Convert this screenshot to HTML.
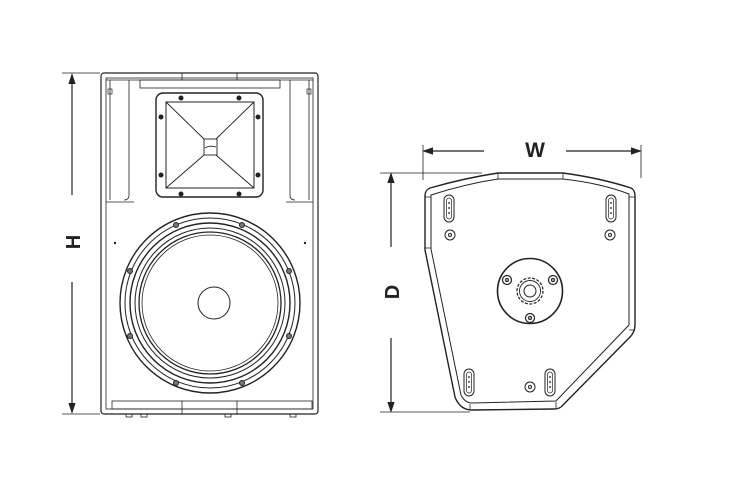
<!DOCTYPE html>
<html><head><meta charset="utf-8"><style>
html,body{margin:0;padding:0;background:#fff;}
svg{display:block;}
text{font-family:"Liberation Sans",sans-serif;font-weight:bold;fill:#222;}
</style></head><body>
<svg width="752" height="500" viewBox="0 0 752 500" xmlns="http://www.w3.org/2000/svg">
<g fill="none" stroke="#222" stroke-width="1.2">
<line x1="62" y1="73" x2="100" y2="73" stroke-width="0.8"/>
<line x1="62" y1="414" x2="100" y2="414" stroke-width="0.8"/>
<line x1="72" y1="75" x2="72" y2="195"/>
<line x1="72" y1="282" x2="72" y2="412"/>
<path d="M69,84 L72,75 L75,84" fill="#222"/>
<path d="M69,403 L72,412 L75,403" fill="#222"/>

<rect x="101" y="73" width="217" height="341" rx="3"/>
<rect x="106" y="78" width="207" height="331" stroke-width="0.8"/>
<line x1="106" y1="80" x2="313" y2="80" stroke-width="0.8"/>
<rect x="140" y="80" width="140" height="8" stroke-width="0.8"/>
<line x1="182" y1="73" x2="182" y2="80" stroke-width="0.8"/>
<line x1="237" y1="73" x2="237" y2="80" stroke-width="0.8"/>
<path d="M110,80 L110,200" stroke-width="0.8"/>
<path d="M129,80 L129,195 Q129,200 124,200" stroke-width="0.8"/>
<path d="M309,80 L309,200" stroke-width="0.8"/>
<path d="M290,80 L290,195 Q290,200 295,200" stroke-width="0.8"/>
<line x1="106" y1="202" x2="134" y2="202" stroke-width="0.8"/>
<line x1="286" y1="202" x2="313" y2="202" stroke-width="0.8"/>
<rect x="108" y="89" width="4" height="5" stroke-width="0.7"/>
<rect x="307" y="89" width="4" height="5" stroke-width="0.7"/>
<rect x="156" y="93" width="107" height="104" rx="7" stroke-width="1.4"/>
<rect x="166" y="102" width="88" height="86" stroke-width="1"/>
<path d="M166,102 L204,139 M254,102 L216,139 M166,188 L204,155 M254,188 L216,155" stroke-width="0.9"/>
<rect x="204" y="139" width="13" height="16" stroke-width="0.9"/>
<path d="M205,148 Q210,145 216,147" stroke-width="0.8"/>
<g fill="#222" stroke="none">
<circle cx="181" cy="98" r="2.5"/><circle cx="239" cy="98" r="2.5"/>
<circle cx="161" cy="117" r="2.5"/><circle cx="258" cy="117" r="2.5"/>
<circle cx="161" cy="175" r="2.5"/><circle cx="258" cy="175" r="2.5"/>
<circle cx="181" cy="194" r="2.5"/><circle cx="239" cy="194" r="2.5"/>
</g>
<circle cx="210" cy="303" r="90" stroke-width="1.4"/>
<circle cx="210" cy="303" r="85" stroke-width="1"/>
<circle cx="210" cy="303" r="80" stroke-width="1.4"/>
<circle cx="210" cy="303" r="75" stroke-width="1"/>
<circle cx="210" cy="303" r="71" stroke-width="1.3"/>
<circle cx="210" cy="303" r="68" stroke-width="0.8"/>
<circle cx="214" cy="303" r="16" stroke-width="1"/>
<g stroke-width="1" fill="#777">
<circle cx="176" cy="225" r="2.5"/><circle cx="242" cy="225" r="2.5"/>
<circle cx="130" cy="271" r="2.5"/><circle cx="289" cy="271" r="2.5"/>
<circle cx="130" cy="336" r="2.5"/><circle cx="289" cy="336" r="2.5"/>
<circle cx="176" cy="383" r="2.5"/><circle cx="242" cy="383" r="2.5"/>
</g>
<circle cx="115" cy="243" r="0.6"/><circle cx="305" cy="243" r="0.6"/>
<rect x="112" y="401" width="200" height="8" stroke-width="0.8"/>
<line x1="182" y1="401" x2="182" y2="414" stroke-width="0.8"/>
<line x1="237" y1="401" x2="237" y2="414" stroke-width="0.8"/>
<g stroke-width="0.8">
<rect x="126" y="414" width="6" height="3"/><rect x="141" y="414" width="6" height="3"/>
<rect x="225" y="414" width="6" height="3"/><rect x="290" y="414" width="6" height="3"/>
</g>

<line x1="423" y1="145" x2="423" y2="180" stroke-width="0.8"/>
<line x1="641" y1="145" x2="641" y2="178" stroke-width="0.8"/>
<line x1="424" y1="151" x2="484" y2="151"/>
<line x1="566" y1="151" x2="640" y2="151"/>
<path d="M433,148 L424,151 L433,154" fill="#222"/>
<path d="M631,148 L640,151 L631,154" fill="#222"/>
<line x1="380" y1="173" x2="482" y2="173" stroke-width="0.8"/>
<line x1="380" y1="412" x2="470" y2="412" stroke-width="0.8"/>
<line x1="391" y1="174" x2="391" y2="247"/>
<line x1="391" y1="338" x2="391" y2="411"/>
<path d="M388,183 L391,174 L394,183" fill="#222"/>
<path d="M388,402 L391,411 L394,402" fill="#222"/>

<path d="M498,173 L563,173 Q600,178 631,188 Q635,190 635,196 L635,325 Q635,331 631,336 L563,405 Q560,409 554,409 L472,410 Q460,410 455,397 L425,250 L425,196 Q425,190 430,188 Q465,178 498,173 Z" stroke-width="1.4"/>
<path d="M498,179 L563,179 Q600,183 629,194 L629,325 L556,401 L472,403 Q465,403 461,395 L431,249 L431,195 Q465,184 498,179 Z" stroke-width="1"/>
<line x1="498" y1="173" x2="498" y2="179" stroke-width="0.8"/>
<line x1="563" y1="173" x2="563" y2="179" stroke-width="0.8"/>
<line x1="425" y1="197" x2="431" y2="197" stroke-width="0.8"/>
<line x1="425" y1="248" x2="431" y2="248" stroke-width="0.8"/>
<line x1="629" y1="197" x2="635" y2="197" stroke-width="0.8"/>
<line x1="629" y1="330" x2="635" y2="330" stroke-width="0.8"/>
<line x1="470" y1="404" x2="470" y2="410" stroke-width="0.8"/>
<line x1="556" y1="402" x2="556" y2="409" stroke-width="0.8"/>
<g stroke-width="1">
<rect x="444" y="195" width="10" height="27" rx="5"/><rect x="446.5" y="198" width="5" height="21" rx="2.5" stroke-width="0.7"/>
<rect x="606" y="195" width="10" height="27" rx="5"/><rect x="608.5" y="198" width="5" height="21" rx="2.5" stroke-width="0.7"/>
<rect x="464" y="369" width="10" height="27" rx="5"/><rect x="466.5" y="372" width="5" height="21" rx="2.5" stroke-width="0.7"/>
<rect x="545" y="369" width="10" height="27" rx="5"/><rect x="547.5" y="372" width="5" height="21" rx="2.5" stroke-width="0.7"/>
<circle cx="450" cy="235" r="5"/><circle cx="450" cy="235" r="1.5"/>
<circle cx="610" cy="235" r="5"/><circle cx="610" cy="235" r="1.5"/>
<circle cx="530" cy="387" r="5"/><circle cx="530" cy="387" r="1.5"/>
</g>
<g fill="#444" stroke="none">
<circle cx="449" cy="203" r="1"/><circle cx="449" cy="208" r="1"/><circle cx="449" cy="213" r="1"/>
<circle cx="611" cy="203" r="1"/><circle cx="611" cy="208" r="1"/><circle cx="611" cy="213" r="1"/>
<circle cx="469" cy="377" r="1"/><circle cx="469" cy="382" r="1"/><circle cx="469" cy="387" r="1"/>
<circle cx="550" cy="377" r="1"/><circle cx="550" cy="382" r="1"/><circle cx="550" cy="387" r="1"/>
</g>
<circle cx="530" cy="291" r="32.5" stroke-width="1.6"/>
<circle cx="530" cy="291" r="13" stroke-width="1.2" stroke-dasharray="3 1.5"/>
<circle cx="530" cy="291" r="10.5" stroke-width="0.9"/>
<circle cx="530" cy="291" r="6" stroke-width="1"/>
<circle cx="507" cy="280" r="4.5"/><circle cx="507" cy="280" r="1.5"/>
<circle cx="553" cy="280" r="4.5"/><circle cx="553" cy="280" r="1.5"/>
<circle cx="530" cy="318" r="4.5"/><circle cx="530" cy="318" r="1.5"/>
</g>
<text x="535" y="157" font-size="21" text-anchor="middle">W</text>
<text transform="translate(80,242) rotate(-90)" font-size="20" text-anchor="middle">H</text>
<text transform="translate(399,292) rotate(-90)" font-size="20" text-anchor="middle">D</text>
</svg>
</body></html>
